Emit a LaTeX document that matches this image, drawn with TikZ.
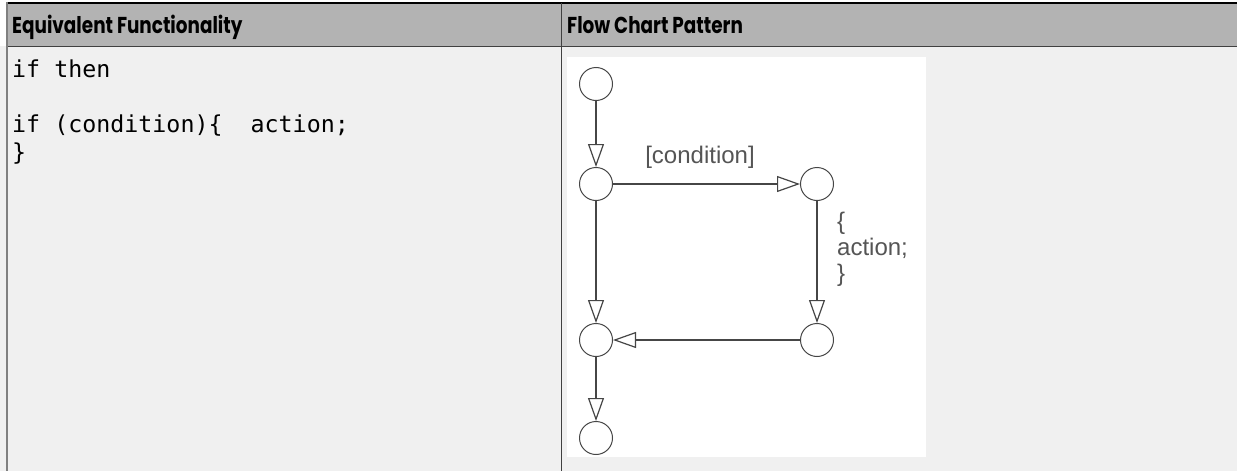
\documentclass[tikz,border=0pt]{standalone}
\usepackage{fontspec}
\setmonofont{DejaVu Sans Mono}
\newfontfamily\hdfont{Poppins}[FakeStretch=0.8]
\newfontfamily\chartfont{Liberation Sans}
\usetikzlibrary{arrows.meta}
\definecolor{headgray}{RGB}{179,179,179}
\definecolor{bodygray}{RGB}{240,240,240}
\definecolor{rulegray}{RGB}{64,64,64}
\definecolor{chartline}{RGB}{70,70,70}
\definecolor{charttext}{RGB}{85,85,85}
\tikzset{
  state/.style={circle, draw=chartline, fill=white, line width=1pt,
    minimum size=33pt, inner sep=0pt},
  flow/.style={draw=chartline, line width=1.2pt,
    -{Triangle[length=23pt, width=16pt, fill=white, line width=1.2pt]}},
  headtext/.style={anchor=base west, inner sep=0pt,
    font=\hdfont\bfseries\fontsize{23}{27}\selectfont},
  codetext/.style={anchor=base west, inner sep=0pt,
    font=\ttfamily\fontsize{23.3}{28}\selectfont},
  charttxt/.style={inner sep=0pt, text=charttext,
    font=\chartfont\fontsize{24}{26}\selectfont}
}
\begin{document}
\begin{tikzpicture}[x=1pt, y=-1pt]
  \useasboundingbox (0,0) rectangle (1237,471);
  % table frame
  \fill[white] (0,0) rectangle (1237,471);
  \fill[bodygray] (0,46) rectangle (1237,471);
  \fill[headgray] (7,3) rectangle (1237,46);
  \draw[black, line width=2pt] (7,3) -- (1237,3);
  \draw[rulegray, line width=1.5pt] (7,46.5) -- (1237,46.5);
  \draw[gray, line width=2pt] (7,2) -- (7,471);
  \draw[rulegray, line width=1pt] (561.5,3) -- (561.5,471);
  % headers
  \node[headtext] (hleft) at (12,33) {Equivalent Functionality};
  \node[headtext] (hright) at (567,33) {Flow Chart Pattern};
  % code column
  \node[codetext] (code1) at (12,77) {if then};
  \node[codetext] (code2) at (12,132) {if (condition)\{\ \ action;};
  \node[codetext] (code3) at (12,160) {\}};
  % flow chart
  \fill[white] (567,57) rectangle (926,457);
  \node[state] (start)  at (596,84)  {};
  \node[state] (branch) at (596,184) {};
  \node[state] (act)    at (817,184) {};
  \node[state] (actend) at (817,340) {};
  \node[state] (merge)  at (596,340) {};
  \node[state] (finish) at (596,438) {};
  \draw[flow] (start) -- (branch);
  \draw[flow] (branch) -- (act);
  \draw[flow] (act) -- (actend);
  \draw[flow] (branch) -- (merge);
  \draw[flow] (actend) -- (merge);
  \draw[flow] (merge) -- (finish);
  \node[charttxt] (cond) at (700,157) {[condition]};
  \node[charttxt, anchor=west, align=left] (action) at (837,249) {\{\\action;\\\}};
\end{tikzpicture}
\end{document}
